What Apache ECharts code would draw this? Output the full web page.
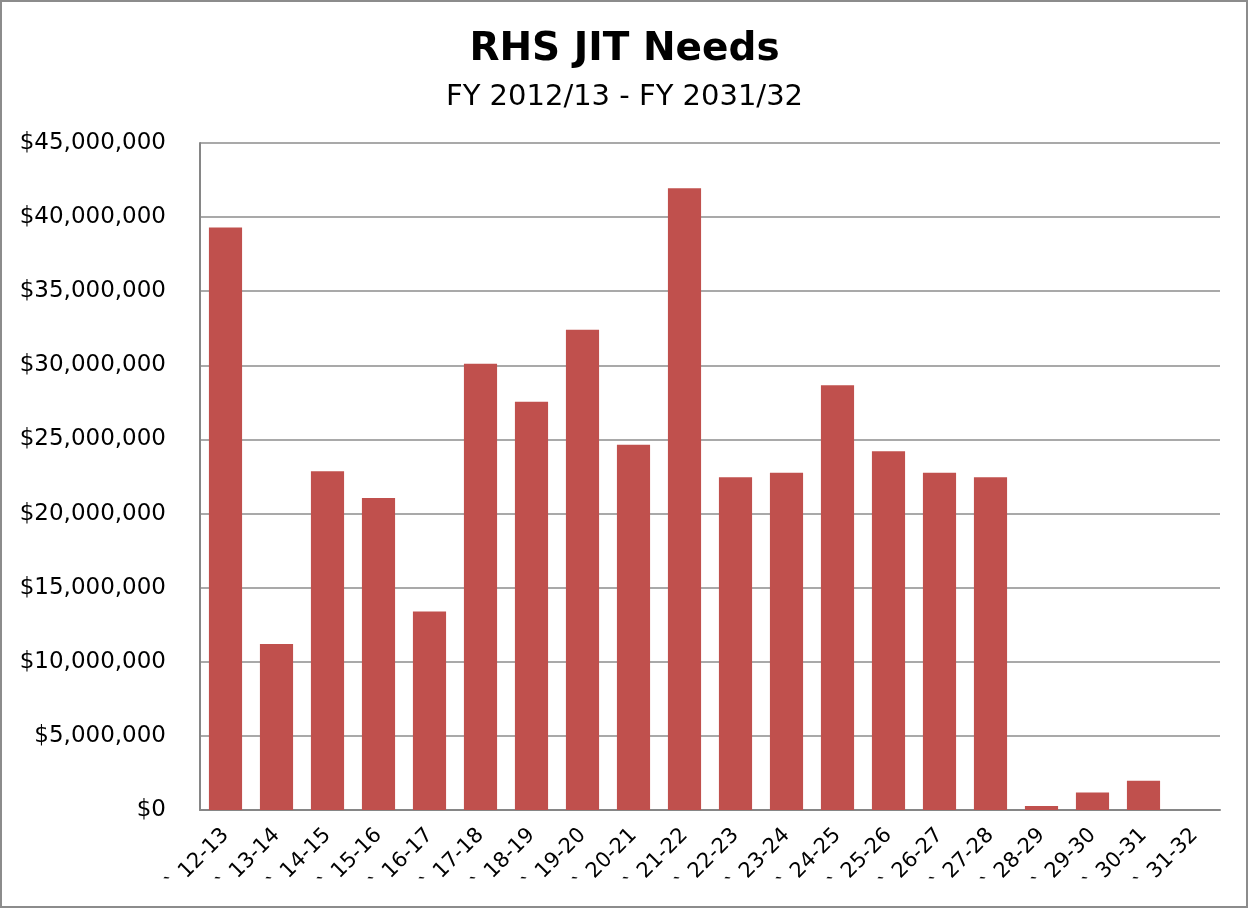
<!DOCTYPE html>
<html>
<head>
<meta charset="utf-8">
<script src="https://cdn.jsdelivr.net/npm/echarts@6/dist/echarts.min.js"></script>
<style>
  html, body { margin: 0; padding: 0; background: #fff; }
  #chart { width: 1249px; height: 909px; }
</style>
</head>
<body>
<div id="chart"></div>
<script>
// Fiscal years, labelled with a leading backtick as in the source workbook
const fiscalYears = ['` 12-13', '` 13-14', '` 14-15', '` 15-16', '` 16-17', '` 17-18', '` 18-19',
  '` 19-20', '` 20-21', '` 21-22', '` 22-23', '` 23-24', '` 24-25', '` 25-26', '` 26-27',
  '` 27-28', '` 28-29', '` 29-30', '` 30-31', '` 31-32'];

// Just-in-time funding needs per fiscal year (dollars)
const jitNeeds = [39300000, 11200000, 22850000, 21050000, 13400000, 30100000, 27550000,
  32400000, 24650000, 41950000, 22450000, 22750000, 28650000, 24200000, 22750000,
  22450000, 270000, 1180000, 1980000, 0];

// Value axis range
const axisMax = 45000000;
const axisStep = 5000000;

const FONT = 'DejaVu Sans';

function money(v) {
  return '$' + Math.round(v).toString().replace(/\B(?=(\d{3})+(?!\d))/g, ',');
}

const chart = echarts.init(document.getElementById('chart'), null, { renderer: 'canvas' });

chart.setOption({
  animation: false,
  backgroundColor: '#ffffff',
  title: {
    text: 'RHS JIT Needs',
    subtext: 'FY 2012/13 - FY 2031/32',
    left: 'center',
    top: 25,
    itemGap: 14,
    textStyle: { fontFamily: FONT, fontSize: 39, fontWeight: 'bold', color: '#000' },
    subtextStyle: { fontFamily: FONT, fontSize: 29, color: '#000' }
  },
  graphic: [{
    type: 'rect',
    shape: { x: 1, y: 1, width: 1246, height: 906 },
    style: { fill: 'none', stroke: '#8c8c8c', lineWidth: 2 },
    silent: true
  }],
  grid: { left: 200, right: 29, top: 143, bottom: 99, containLabel: false },
  xAxis: {
    type: 'category',
    data: fiscalYears,
    axisLine: { show: true, lineStyle: { color: '#868686', width: 2 } },
    axisTick: { show: false },
    axisLabel: {
      rotate: 45,
      interval: 0,
      margin: 22,
      fontFamily: FONT,
      fontSize: 21,
      color: '#000'
    }
  },
  yAxis: {
    type: 'value',
    min: 0,
    max: axisMax,
    interval: axisStep,
    axisLine: { show: true, lineStyle: { color: '#868686', width: 2 } },
    axisTick: { show: false },
    splitLine: { show: true, lineStyle: { color: '#8c8c8c', width: 1.5 } },
    axisLabel: {
      formatter: money,
      margin: 34,
      fontFamily: FONT,
      fontSize: 23,
      color: '#000'
    }
  },
  series: [{
    type: 'bar',
    data: jitNeeds,
    barWidth: '65%',
    itemStyle: { color: '#C0504D' }
  }]
});
</script>
</body>
</html>
